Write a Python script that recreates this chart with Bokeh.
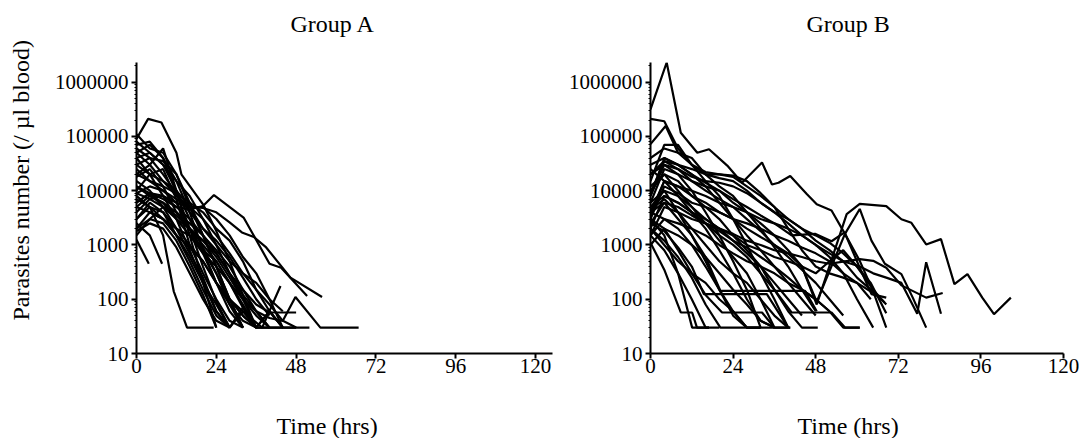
from bokeh.plotting import figure
from bokeh.models import FixedTicker, NumeralTickFormatter, Range1d, Title
from bokeh.layouts import row
from bokeh.embed import file_html
from bokeh.resources import INLINE

FONT = "Liberation Serif"
titles = ["Group A", "Group B"]
x_label = "Time (hrs)"
y_label = "Parasites number (/ \u00b5l blood)"
x_ticks = [0, 24, 48, 72, 96, 120]
y_ticks = [10, 100, 1000, 10000, 100000, 1000000]

# ---------------- Group A : (time in hours, parasites / ul) per patient
A_times = [
    [0, 3.5, 7.5, 12, 13.5, 20, 24, 28, 32, 36],
    [0, 4, 8, 12, 16, 20, 24, 28, 32],
    [0, 4, 8, 12, 16, 20, 24, 28],
    [0, 4, 8, 12, 16, 20, 24],
    [0, 4, 8, 12, 16, 20, 24, 28, 32, 36, 40, 44],
    [0, 4, 8, 12, 16, 20, 23.3, 32.2, 35.3, 40, 43.5, 51.3],
    [0, 4, 8, 12, 16, 20, 24, 28, 31.7, 35.3, 39, 46.3, 55.8],
    [0, 4, 8, 12, 16, 20, 24, 28, 32, 36, 40, 44, 48, 52],
    [0, 4, 8, 12, 16, 20, 24, 28, 32, 36, 40, 44, 47.8, 55.3, 60, 66.8],
    [0, 4, 8, 12, 16, 20, 24, 28, 32, 36, 40, 48],
    [0, 4, 8, 12, 16, 20, 24, 28, 32, 37.8, 43.3],
    [0, 4, 8, 11.2, 15.2, 23.2],
    [0, 4, 8, 12, 16, 20, 24, 28],
    [0, 4, 8, 12, 16, 20, 24, 28, 32],
    [0, 4, 8, 12, 16, 20, 24, 28, 32, 36],
    [0, 4, 8, 12, 16, 20, 24, 28, 32],
    [0, 4, 8, 12, 16, 20, 24, 28, 32, 36, 40],
    [0, 4, 8, 12, 16, 20, 24, 28],
    [0, 3.7],
    [0, 4, 7.7],
    [0, 4, 8, 12, 16, 20, 24, 28, 32, 36],
    [0, 4, 8, 12, 16, 20, 24, 28, 32, 36, 40, 44],
    [0, 4, 8, 12, 16, 20, 24, 28, 32, 36, 40],
    [0, 4, 8, 12, 16, 20, 24, 28, 32],
    [0, 4, 8, 12, 16, 20, 24, 28, 32, 36],
    [0, 4, 8, 12, 16, 20, 24, 28, 32, 36, 40, 44, 48],
    [0, 4, 8, 12, 16, 20, 24, 28, 32, 36, 40, 44, 48],
    [0, 4, 8, 12, 16, 20, 24, 28, 32, 36, 40],
    [0, 4, 8, 12, 16, 20, 24],
    [0, 4, 8, 12, 16, 20, 24, 28, 32, 36, 40, 44],
    [0, 4, 8, 12, 16, 20, 24, 28, 32, 36, 40, 44],
    [0, 4, 8, 12, 16, 20, 24, 28, 32, 36],
    [0, 4, 8, 12, 16, 20, 24, 28, 32, 36, 40, 44],
    [0, 4, 8, 12, 16, 20, 24, 28, 32, 36, 40],
    [0, 4, 8, 12, 16, 20, 24, 28],
    [0, 4, 8, 12, 16, 20, 24, 28, 32],
]
A_values = [
    [90000, 210000, 180000, 50000, 20000, 5600, 1800, 500, 120, 30],
    [110000, 60000, 50000, 20000, 5000, 1500, 400, 100, 30],
    [70000, 80000, 40000, 9000, 2000, 400, 90, 30],
    [50000, 30000, 60000, 10000, 1500, 200, 30],
    [20000, 30000, 15000, 8000, 5000, 5000, 3000, 1500, 600, 300, 100, 30],
    [6000, 9000, 7000, 5000, 4500, 5200, 8300, 3200, 1480, 450, 380, 115],
    [12000, 9000, 8000, 6000, 5000, 4800, 4000, 2600, 1700, 1400, 900, 250, 110],
    [3000, 5000, 4000, 2000, 1500, 800, 500, 200, 80, 30, 60, 30, 30, 30],
    [5000, 8000, 6000, 3000, 1500, 700, 400, 200, 100, 60, 45, 40, 110, 30, 30, 30],
    [9000, 7000, 5000, 3500, 2000, 1200, 700, 300, 150, 80, 57, 57],
    [2000, 4000, 3000, 1500, 900, 500, 200, 100, 60, 30, 175],
    [8000, 5000, 1500, 140, 30, 30],
    [30000, 20000, 8000, 3000, 800, 200, 60, 30],
    [40000, 50000, 30000, 10000, 3000, 900, 300, 80, 30],
    [25000, 15000, 10000, 6000, 2000, 800, 300, 100, 50, 30],
    [10000, 20000, 25000, 7000, 1000, 300, 100, 40, 30],
    [6000, 9000, 5000, 3000, 2000, 1200, 600, 250, 100, 50, 30],
    [3000, 6000, 4000, 1500, 500, 150, 50, 30],
    [1250, 450],
    [2500, 1500, 450],
    [18000, 25000, 12000, 4000, 2000, 1000, 500, 200, 70, 30],
    [4000, 7000, 8000, 5000, 3000, 1500, 800, 400, 150, 60, 30, 30],
    [12000, 8000, 6000, 4000, 2500, 1500, 700, 300, 120, 60, 30],
    [50000, 70000, 40000, 15000, 4000, 800, 200, 60, 30],
    [2000, 3000, 5000, 4000, 2000, 700, 200, 80, 40, 30],
    [9000, 12000, 10000, 7000, 5000, 3000, 1500, 700, 300, 150, 80, 40, 30],
    [7000, 5000, 3000, 1500, 600, 200, 80, 30, 70, 30, 60, 30, 30],
    [15000, 10000, 5000, 2000, 700, 250, 60, 30, 60, 30, 30],
    [1500, 3000, 2500, 1200, 400, 120, 30],
    [30000, 40000, 20000, 9000, 4000, 2000, 1000, 500, 300, 200, 100, 60],
    [5000, 4000, 3000, 2000, 1000, 500, 200, 100, 50, 30, 30, 30],
    [80000, 50000, 30000, 15000, 8000, 3000, 1000, 300, 100, 30],
    [20000, 15000, 12000, 9000, 6000, 4000, 2000, 1200, 500, 150, 60, 30],
    [40000, 20000, 15000, 10000, 5000, 2000, 1200, 600, 250, 100, 50],
    [1800, 2500, 2000, 900, 300, 100, 40, 30],
    [60000, 40000, 35000, 20000, 6000, 1500, 400, 100, 30],
]

# ---------------- Group B
B_times = [
    [0, 4.7, 8.8, 13.6, 17, 22.3, 26.6, 32.4, 35.3, 37.2, 40.6, 45.4, 48.3, 52.6, 56.5, 60.8, 64.7, 68.5],
    [0, 4, 8, 12, 16, 20, 24, 28, 32, 36, 40],
    [0, 4.4, 8, 12, 16, 20, 24, 28, 32, 36, 40, 44, 48],
    [0, 4, 8, 12, 16, 20, 24, 28, 32, 36, 40, 44, 48.3, 57, 60.8, 68.5, 72.9, 75.8, 80.1, 84.4, 88.3, 92.1, 96.4, 99.8, 104.7],
    [0, 4, 8, 12, 16, 20, 24, 28, 32, 36, 40, 44, 48.3, 56.5, 60.8, 64.2, 68.1, 72.9, 76.2, 80.1],
    [0, 4, 8, 12, 16, 20, 24, 28, 32, 36, 41, 47.8, 52.6, 56.4, 60.8, 64.2, 68.5],
    [0, 4, 8, 12, 16, 20, 24, 28, 32, 36, 40, 44, 48, 52, 56, 60, 64.7, 68.5],
    [0, 4, 8, 12, 16, 20, 24, 28, 32, 36, 40, 44, 48, 52, 56.5, 60.8, 64.7, 68.5, 72.9, 80.1, 84.9],
    [0, 4, 8, 12, 16, 20, 24, 28, 32, 36, 40, 44, 48, 52, 56, 60.8, 64.7, 68.5, 72.9, 77.5, 80.1, 84.4],
    [0, 4, 8.8, 12.1, 13.5, 17],
    [0, 4, 8, 12.1, 17],
    [0, 4, 8, 12, 15.5, 33.8, 40],
    [0, 4, 8, 12, 16, 20.3, 44.9, 48.3],
    [0, 4, 8, 12, 16, 20, 24, 28, 32, 36, 41, 52.6, 56.5, 60.8],
    [0, 4, 8, 12, 16, 20.8, 32.4, 36, 40.6],
    [0, 4, 8, 12, 16, 20.3, 24, 28, 32, 36, 40.6],
    [0, 4, 8, 12, 16, 20, 24, 28, 32, 36, 40, 44, 48.6],
    [0, 4, 8, 12, 16, 20, 24, 28, 32, 36, 40, 44, 48, 52, 56, 60, 64.7],
    [0, 4, 8, 12, 16, 20, 24, 28, 32, 36, 40, 44, 48, 52, 56, 60, 64, 68],
    [0, 4, 8, 12, 16, 20, 24, 28, 32, 36, 40, 44, 48, 52, 56, 60, 64.7],
    [0, 4, 8, 12, 16, 20, 24, 28, 32, 36, 40, 44, 48],
    [0, 4, 8, 12, 16, 20, 24, 28, 32],
    [0, 4, 8, 12, 16, 20, 24, 28],
    [0, 4, 8, 12, 16, 20, 24, 28, 32, 36],
    [0, 4, 8, 12, 16, 20, 24, 28, 32, 36, 40, 44, 48, 52],
    [0, 4, 8, 12, 16, 20],
    [0, 4, 8, 12, 16, 20, 24, 28, 32],
    [0, 4, 8, 12, 16, 20, 24, 28, 32, 36, 40, 44],
    [0, 4, 8, 12, 16, 20, 24, 28, 32, 36],
    [0, 4, 8, 12, 16, 20, 24, 28, 32, 36, 40, 44, 48, 52, 56],
    [0, 4, 8, 12, 16, 20, 24, 28, 32, 36, 40, 44, 48, 52, 56, 60, 64, 68.5],
    [0, 4, 8, 12, 16, 20, 24, 28, 32],
    [0, 4, 8, 12, 16, 20, 24, 28, 32, 36, 40, 44, 48, 52, 56, 60, 64],
    [0, 4, 8, 12, 16, 20, 24, 28, 32, 36],
    [0, 4, 8, 12, 16, 20, 24, 28, 32, 36, 40, 44, 48, 52, 56, 60.8],
    [0, 4, 8, 12, 16, 20, 24, 28, 32, 36, 40],
]
B_values = [
    [316000, 2300000, 117000, 50000, 58000, 29000, 14000, 33000, 13000, 14000, 18600, 8700, 5600, 4300, 1600, 510, 140, 30],
    [210000, 190000, 60000, 30000, 15000, 8000, 3000, 1000, 300, 100, 30],
    [72000, 155000, 50000, 40000, 20000, 12000, 8000, 4000, 2000, 900, 400, 150, 60],
    [8000, 40000, 30000, 20000, 14000, 10000, 6000, 4000, 2500, 1500, 800, 400, 80, 3700, 5700, 5200, 2970, 2560, 1020, 1280, 190, 290, 107, 53, 107],
    [3000, 12000, 9000, 6000, 5000, 4000, 3000, 2000, 1400, 1000, 700, 400, 90, 1600, 4600, 1200, 450, 290, 107, 30],
    [6000, 25000, 20000, 15000, 12000, 10000, 7000, 5000, 3500, 2500, 1500, 1600, 1170, 1700, 380, 124, 107],
    [2000, 8000, 6000, 4000, 3000, 2000, 1500, 1000, 800, 600, 500, 400, 300, 500, 800, 400, 150, 80],
    [1500, 5000, 4000, 3000, 2500, 2000, 1600, 1200, 1000, 800, 700, 600, 500, 450, 500, 550, 510, 380, 180, 107, 130],
    [4000, 15000, 12000, 10000, 8000, 6000, 5000, 4000, 3000, 2500, 2000, 1500, 1000, 700, 500, 400, 300, 250, 200, 54, 480, 54],
    [1100, 350, 57, 57, 30, 30],
    [3000, 1500, 300, 30, 30],
    [2500, 1800, 900, 400, 124, 124, 30],
    [4000, 6000, 3000, 1500, 600, 143, 143, 60],
    [5000, 8000, 6000, 4000, 2500, 1500, 1000, 600, 300, 150, 57, 57, 30, 30],
    [3000, 2000, 800, 300, 120, 57, 57, 30, 30],
    [2000, 1200, 600, 250, 80, 30, 30, 30, 30, 30, 30],
    [10000, 20000, 15000, 8000, 5000, 3000, 1500, 800, 400, 150, 60, 30, 30],
    [20000, 35000, 30000, 25000, 20000, 17000, 15000, 10000, 6000, 4000, 2500, 1500, 1000, 600, 300, 100, 30],
    [40000, 60000, 50000, 30000, 22000, 20000, 18000, 12000, 8000, 5000, 3000, 2000, 1200, 800, 500, 250, 150, 87],
    [15000, 70000, 70000, 30000, 20000, 20000, 19000, 15000, 9000, 5000, 2000, 800, 400, 300, 250, 200, 130],
    [30000, 40000, 30000, 20000, 12000, 6000, 3000, 1500, 800, 400, 200, 100, 50],
    [8000, 30000, 20000, 10000, 4000, 1500, 500, 150, 30],
    [5000, 10000, 4000, 1500, 500, 150, 50, 30],
    [12000, 20000, 10000, 5000, 2500, 1200, 600, 300, 100, 30],
    [2500, 6000, 5000, 3500, 2500, 1800, 1200, 900, 600, 400, 250, 150, 100, 60],
    [1500, 800, 300, 100, 30, 30],
    [4000, 3000, 2000, 1000, 400, 150, 60, 30, 30],
    [6000, 10000, 8000, 5000, 3000, 2000, 1200, 700, 400, 200, 100, 50],
    [1000, 2000, 1500, 1000, 600, 300, 150, 80, 40, 30],
    [20000, 30000, 25000, 15000, 10000, 7000, 5000, 3000, 1800, 1000, 600, 350, 200, 100, 50],
    [9000, 35000, 25000, 18000, 15000, 14000, 12000, 9000, 6000, 4000, 3000, 2000, 1500, 1100, 700, 400, 200, 55],
    [2000, 1000, 500, 300, 200, 100, 60, 30, 30],
    [3500, 15000, 12000, 8000, 6000, 4000, 3000, 2500, 2000, 1500, 1200, 900, 700, 500, 300, 200, 100],
    [25000, 15000, 8000, 4000, 2000, 800, 300, 100, 40, 30],
    [1500, 3000, 2500, 2000, 1500, 1000, 700, 500, 400, 300, 200, 150, 100, 60, 30, 30],
    [4500, 7000, 4000, 2000, 1000, 500, 300, 200, 100, 50, 30],
]

Y_END = 2.3e6


def text_title(text, offset, size="24px"):
    return Title(text=text, align="left", offset=offset, text_font=FONT,
                 text_font_size=size, text_font_style="normal", text_color="black")


def make_panel(times, values, title, width, border_left, border_right, x_end,
               with_ylabel, title_off, xlabel_off):
    p = figure(width=width, height=450, y_axis_type="log",
               x_range=Range1d(0, x_end), y_range=Range1d(10, Y_END),
               output_backend="svg", toolbar_location=None,
               min_border_left=border_left, min_border_right=border_right,
               min_border_top=62, min_border_bottom=97)
    p.xgrid.visible = False
    p.ygrid.visible = False
    p.outline_line_color = None
    p.multi_line(xs=times, ys=values, line_color="black", line_width=2.2)

    p.xaxis.ticker = FixedTicker(ticks=x_ticks)
    minor = [k * 10 ** e for e in range(1, 7) for k in range(2, 10)]
    p.yaxis.ticker = FixedTicker(ticks=y_ticks, minor_ticks=minor)
    p.yaxis.formatter = NumeralTickFormatter(format="0")
    for ax in (p.xaxis, p.yaxis):
        ax.axis_line_width = 2
        ax.axis_line_color = "black"
        ax.major_tick_line_width = 2
        ax.major_tick_line_color = "black"
        ax.major_tick_in = 0
        ax.major_tick_out = 5
        ax.major_label_text_font = FONT
        ax.major_label_text_font_size = "21px"
        ax.major_label_text_color = "black"
    p.xaxis.major_label_standoff = 0
    p.yaxis.major_label_standoff = 3
    p.yaxis.minor_tick_in = 0
    p.yaxis.minor_tick_out = 2
    p.yaxis.minor_tick_line_color = "black"
    p.xaxis.minor_tick_line_color = None

    # invisible spacer labels to push the outer titles away from the axes
    p.xaxis.axis_label = " "
    p.xaxis.axis_label_text_font_size = "1px"
    p.xaxis.axis_label_standoff = 26

    p.add_layout(text_title(" ", 0, "8px"), "above")
    p.add_layout(text_title(title, title_off), "above")
    p.add_layout(text_title(x_label, xlabel_off), "below")
    if with_ylabel:
        p.yaxis.axis_label = " "
        p.yaxis.axis_label_text_font_size = "1px"
        p.yaxis.axis_label_standoff = 9
        p.add_layout(text_title(y_label, 33), "left")
    return p


pA = make_panel(A_times, A_values, titles[0], 565, 136, 13, 125.1, True, 154, 140)
pB = make_panel(B_times, B_values, titles[1], 514, 83, 16, 120.0, False, 156, 147)

layout = row(pA, pB)
open("out.html", "w").write(file_html(layout, INLINE))
